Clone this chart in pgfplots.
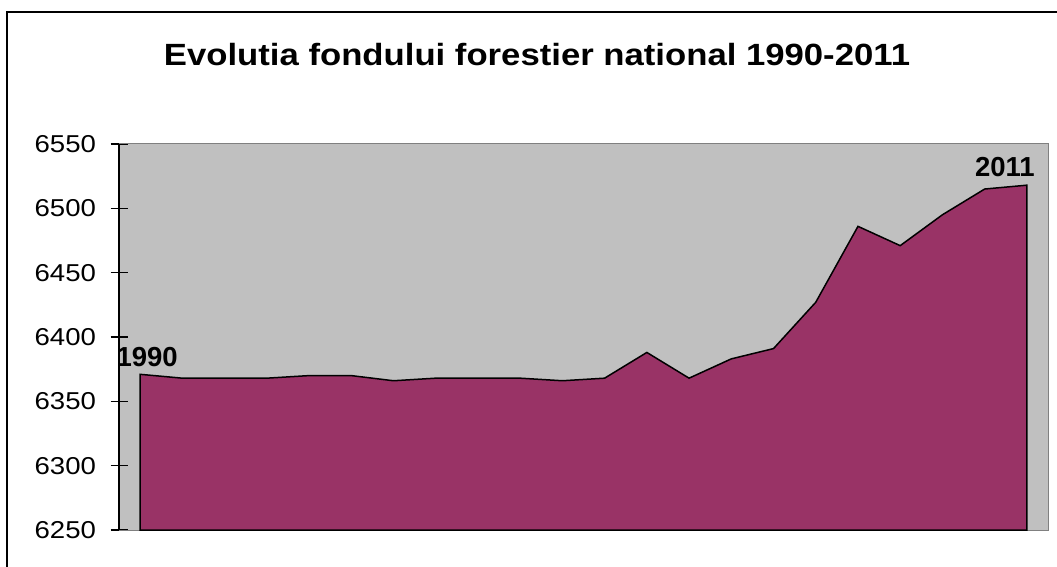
\documentclass[border=0pt]{standalone}
\usepackage{pgfplots}
\pgfplotsset{compat=1.18}
\usepackage{fontspec}
\setmainfont{Liberation Sans}
\newfontfamily\stretchfont[FakeStretch=1.13]{Liberation Sans}
\definecolor{plotgray}{HTML}{C0C0C0}
\definecolor{areapurple}{HTML}{993366}
\definecolor{bordergray}{HTML}{808080}
\begin{document}
\begin{tikzpicture}
\path[use as bounding box] (0bp,0bp) rectangle (1057bp,567bp);
\draw[line width=1.4bp] (7bp,-20bp) rectangle (1080bp,555bp);
\node[anchor=base, font=\stretchfont\bfseries\fontsize{30.7bp}{36bp}\selectfont] at (537bp,501bp) {Evolutia fondului forestier national 1990-2011};
\begin{axis}[
  at={(119bp,37bp)}, anchor=south west,
  scale only axis, width=929bp, height=386bp,
  xmin=-0.5, xmax=21.5, ymin=6250, ymax=6550,
  ytick={6250,6300,6350,6400,6450,6500,6550},
  xtick=\empty,
  ytick pos=left,
  tick align=center,
  major tick length=17bp,
  tick style={black, line width=1.4bp},
  axis line style={draw=bordergray, line width=1bp},
  axis background/.style={fill=plotgray},
  yticklabel style={font=\stretchfont\fontsize{24.4bp}{28bp}\selectfont, xshift=-11bp,
    /pgf/number format/1000 sep={}, /pgf/number format/assume math mode=true},
  clip=false,
]
\addplot[fill=areapurple, draw=black, line width=1.5bp] coordinates {
(0,6371) (1,6368) (2,6368) (3,6368) (4,6370) (5,6370) (6,6366) (7,6368)
(8,6368) (9,6368) (10,6366) (11,6368) (12,6388) (13,6368) (14,6383)
(15,6391) (16,6427) (17,6486) (18,6471) (19,6495) (20,6515) (21,6518)
} \closedcycle;
\draw[black, line width=1.4bp] (axis cs:-0.5,6250) -- (axis cs:-0.5,6550);
\node[anchor=base, font=\bfseries\fontsize{27.5bp}{32bp}\selectfont, xshift=7bp, yshift=8bp] at (axis cs:0,6371) {1990};
\node[anchor=base, font=\bfseries\fontsize{27.5bp}{32bp}\selectfont, xshift=-22bp, yshift=9bp] at (axis cs:21,6518) {2011};
\end{axis}
\end{tikzpicture}
\end{document}
